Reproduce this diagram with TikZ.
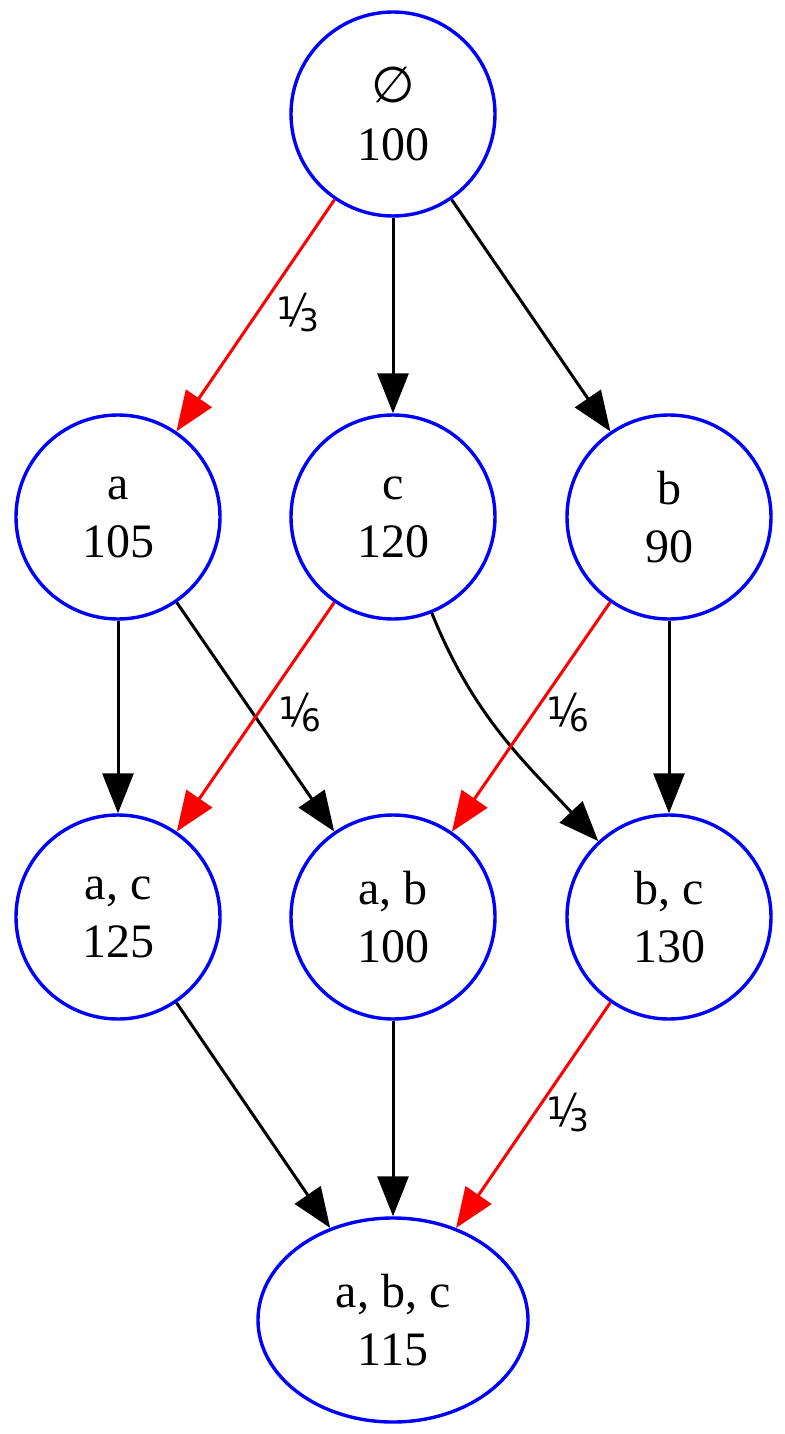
\documentclass[tikz,border=0pt]{standalone}
\usepackage{fontspec}
\setmainfont{Liberation Serif}
\newfontfamily\labfont{DejaVu Sans}
\usetikzlibrary{arrows.meta,shapes.geometric}
% a slanted fraction built from raised and lowered digits
\newcommand{\sfrac}[2]{\raisebox{6pt}{#1}\kern-1pt\raisebox{-1pt}{\scalebox{1.1}[1.45]{⁄}}\kern-1pt\raisebox{-6pt}{#2}}
\begin{document}
\begin{tikzpicture}[x=1pt,y=-1pt,
  setnode/.style={circle,draw=blue,line width=3.4pt,inner sep=0pt,minimum size=204pt,
    align=center,font=\fontsize{48}{58}\selectfont},
  edge/.style={line width=3pt,-{Triangle[length=40pt,width=31pt]}},
  heavy/.style={edge,draw=red,fill=red},
  plain/.style={edge,draw=black},
  frac/.style={font=\labfont\fontsize{31}{34}\selectfont,inner sep=0pt}]
\useasboundingbox (0,0) rectangle (784,1434);
% lattice of subsets with their values
\node[setnode] (e)  at (393,114) {{\labfont\fontsize{50}{58}\selectfont ∅}\\100};
\node[setnode] (a)  at (118,517) {a\\105};
\node[setnode] (c)  at (393,517) {c\\120};
\node[setnode] (b)  at (669,517) {b\\90};
\node[setnode] (ac) at (118,917) {a, c\\125};
\node[setnode] (ab) at (393,917) {a, b\\100};
\node[setnode] (bc) at (669,917) {b, c\\130};
\node[setnode,ellipse,minimum width=270pt,minimum height=204pt] (abc) at (393,1320) {a, b, c\\115};
% edges
\draw[heavy] (e) -- (a);
\draw[plain] (e) -- (c);
\draw[plain] (e) -- (b);
\draw[plain] (a) -- (ac);
\draw[plain] (a) -- (ab);
\draw[heavy] (c) -- (ac);
\draw[plain] (c) to[out=-68,in=133] (bc);
\draw[heavy] (b) -- (ab);
\draw[plain] (b) -- (bc);
\draw[plain] (ac) -- (abc);
\draw[plain] (ab) -- (abc);
\draw[heavy] (bc) -- (abc);
% edge weights
\node[frac] (l1) at (298,313) {\sfrac{1}{3}};
\node[frac] (l2) at (300,713) {\sfrac{1}{6}};
\node[frac] (l3) at (568,713) {\sfrac{1}{6}};
\node[frac] (l4) at (568,1113) {\sfrac{1}{3}};
\end{tikzpicture}
\end{document}
